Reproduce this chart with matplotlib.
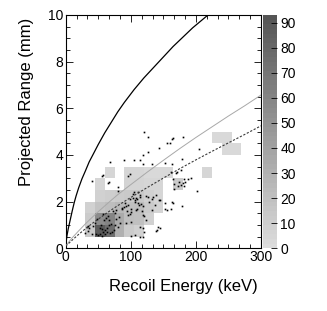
import numpy as np
import matplotlib
matplotlib.use("Agg")
import matplotlib.pyplot as plt
from matplotlib.colors import LinearSegmentedColormap
from matplotlib.ticker import MultipleLocator

plt.rcParams['font.family'] = ['Liberation Sans', 'DejaVu Sans']

# ---- 2D histogram (bin centres in keV / mm and counts) ----
cell_e = [37.5, 52.5, 67.5, 82.5, 97.5, 112.5,
          37.5, 52.5, 67.5, 82.5, 97.5, 112.5, 127.5,
          37.5, 52.5, 67.5, 82.5, 97.5, 112.5, 127.5, 142.5,
          52.5, 67.5, 82.5, 97.5, 112.5, 127.5, 142.5,
          52.5, 97.5, 112.5, 127.5, 142.5, 172.5,
          67.5, 97.5, 112.5, 127.5, 142.5, 157.5, 217.5,
          247.5, 262.5,
          232.5, 247.5]
cell_r = [0.75] * 6 + [1.25] * 7 + [1.75] * 8 + [2.25] * 7 + [2.75] * 6 + [3.25] * 7 + [4.25] * 2 + [4.75] * 2
cell_counts = [14, 88, 75, 30, 12, 8,
               12, 55, 60, 35, 22, 20, 8,
               8, 18, 22, 25, 20, 22, 12, 6,
               8, 10, 12, 14, 14, 9, 5,
               5, 7, 7, 5, 4, 12,
               5, 4, 4, 3, 3, 3, 4,
               3, 3,
               3, 3]

# ---- data points (keV, mm) ----
pts_e = [120, 127, 143, 156, 160, 164, 165, 180, 205,
         105, 90, 68, 114, 118, 127, 164, 179, 171, 177,
         57, 40, 66, 80, 96, 99, 165, 182, 183, 188, 193, 180, 182, 173, 202, 167,
         55, 65, 118, 132, 152, 162, 170, 167, 174, 177,
         80, 111, 103, 99, 108, 114, 106, 111, 126, 134, 137, 145, 152, 155, 165, 132,
         93, 91, 87, 78, 75, 82, 96, 101, 109, 119, 124, 101, 93, 114, 119, 121, 142,
         138, 106, 114, 178, 161, 164, 140, 145, 118, 100, 32, 34, 29,
         42, 45, 47, 48, 50, 52, 53, 54, 55, 56, 57, 58, 59, 60, 61, 62, 63, 64, 65, 66,
         67, 68, 70, 71, 72, 74, 76, 78, 80, 84, 86, 36, 40, 34,
         90, 94, 96, 99, 101, 103, 105, 107, 108, 110, 112, 114, 115, 117, 119, 121,
         124, 128, 132, 138, 144, 152]
pts_r = [4.97, 4.76, 4.31, 4.5, 4.53, 4.67, 4.71, 4.75, 4.27,
         3.78, 3.78, 3.7, 3.78, 4.0, 4.14, 3.6, 3.83, 3.28, 3.36,
         3.14, 2.88, 2.83, 2.61, 3.1, 3.18, 2.95, 2.96, 2.86, 2.96, 3.0, 2.78, 2.67, 2.68, 2.45, 2.54,
         3.1, 2.79, 3.61, 3.61, 3.64, 3.29, 3.21, 2.76, 2.83, 2.71,
         2.47, 2.4, 2.31, 2.1, 2.14, 2.28, 2.0, 1.96, 2.21, 2.18, 1.86, 2.07, 1.93, 1.64, 1.93, 1.64,
         1.81, 1.93, 1.71, 1.64, 1.5, 1.36, 1.43, 1.57, 1.67, 1.43, 1.21, 1.14, 1.07, 0.93, 0.86, 0.71, 0.93,
         0.76, 0.57, 0.47, 1.81, 1.67, 2.0, 0.79, 0.86, 0.5, 0.54, 0.93, 0.76, 0.67,
         0.95, 1.1, 0.62, 1.25, 0.55, 0.88, 0.6, 1.0, 0.52, 0.82, 1.45, 0.72, 1.2, 0.62, 0.78, 1.3, 0.68, 0.85, 1.4, 0.98,
         1.2, 0.65, 1.05, 0.7, 1.6, 0.8, 1.0, 1.25, 0.9, 1.1, 1.7, 0.88, 0.62, 0.95,
         1.75, 1.6, 1.85, 1.45, 1.7, 2.15, 2.4, 2.05, 1.65, 2.1, 1.85, 2.2, 1.9, 1.6, 1.8, 1.4,
         2.25, 2.0, 2.1, 2.3, 2.05, 1.7]

# ---- model curves ----
solid_e = [0, 1, 2, 4, 6, 8, 10, 13, 16, 20, 25, 30, 36, 42, 50, 60, 70, 80, 90,
           105, 120, 135, 150, 165, 180, 195, 210, 225]
solid_r = [0, 0.35, 0.55, 0.85, 1.1, 1.35, 1.6, 1.95, 2.25, 2.6, 2.98, 3.3, 3.7, 4.02, 4.45,
           4.95, 5.4, 5.85, 6.25, 6.8, 7.3, 7.75, 8.2, 8.65, 9.05, 9.45, 9.8, 10.15]
gray_e = [0, 5, 10, 20, 30, 40, 50, 65, 80, 100, 125, 150, 175, 200, 225, 250, 275, 300]
gray_r = [0.1, 0.28, 0.45, 0.75, 1.04, 1.31, 1.57, 1.94, 2.3, 2.73, 3.26, 3.77, 4.27, 4.75, 5.21, 5.67, 6.11, 6.57]
dash_e = [0, 5, 10, 20, 30, 40, 50, 65, 80, 100, 125, 150, 175, 200, 225, 250, 275, 300]
dash_r = [0.1, 0.22, 0.35, 0.6, 0.83, 1.05, 1.25, 1.55, 1.83, 2.18, 2.6, 3.01, 3.41, 3.79, 4.16, 4.52, 4.88, 5.25]

x_edges = np.arange(0, 300.1, 15)
y_edges = np.arange(0, 10.01, 0.5)

W, H = 327, 311
fig = plt.figure(figsize=(W / 100, H / 100), dpi=100)
ax = fig.add_axes([65.7 / W, 1 - 248.3 / H, (261 - 65.7) / W, (248.3 - 15) / H])
cax = fig.add_axes([262.5 / W, 1 - 248.3 / H, 15 / W, (248.3 - 15) / H])

cmap = LinearSegmentedColormap.from_list('rootgray', ['#dcdcdc', '#555555'], N=50)
h = ax.hist2d(cell_e, cell_r, bins=[x_edges, y_edges], weights=cell_counts,
              cmap=cmap, vmin=0, vmax=93, cmin=0.5)
ax.plot(pts_e, pts_r, 's', color='black', ms=1.2, mew=0, zorder=3)
ax.plot(solid_e, solid_r, '-', color='black', lw=0.9, zorder=4)
ax.plot(gray_e, gray_r, '-', color='#a8a8a8', lw=0.7, zorder=4)
ax.plot(dash_e, dash_r, color='#3a3a3a', lw=0.8, ls=(0, (2, 1.5)), zorder=4)

ax.set_xlim(0, 300)
ax.set_ylim(0, 10)
ax.xaxis.set_major_locator(MultipleLocator(100))
ax.xaxis.set_minor_locator(MultipleLocator(100 / 6))
ax.yaxis.set_major_locator(MultipleLocator(2))
ax.yaxis.set_minor_locator(MultipleLocator(0.5))
ax.tick_params(which='both', direction='in', top=True, right=True, labelsize=10, width=0.6)
ax.tick_params(which='major', length=5)
ax.tick_params(which='minor', length=2.8)
ax.tick_params(axis='x', pad=1)
ax.tick_params(axis='y', pad=2)
for s in ax.spines.values():
    s.set_linewidth(0.8)

fig.text(258 / W, 1 - 287 / H, 'Recoil Energy (keV)', ha='right', va='center', fontsize=12)
fig.text(27 / W, 1 - 18 / H, 'Projected Range (mm)', ha='center', va='top', rotation=90, fontsize=12)

cb = fig.colorbar(h[3], cax=cax)
cb.outline.set_visible(False)
cb.set_ticks(np.arange(0, 91, 10))
cax.tick_params(direction='in', length=4, width=0.6, labelsize=10, pad=2, right=True, colors='black')

fig.savefig('out.png', dpi=100)
